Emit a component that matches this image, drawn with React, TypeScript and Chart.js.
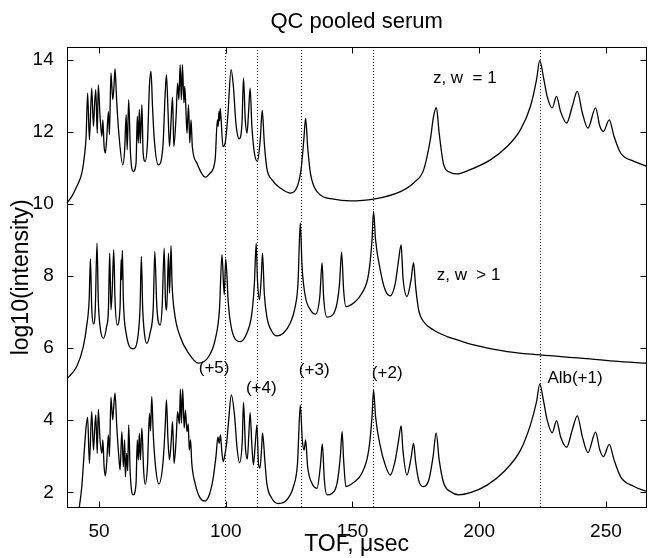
import { useEffect, useRef } from "react";
import { Chart, registerables } from "chart.js";

Chart.register(...registerables);

const FONT = "'Liberation Sans', Arial, Helvetica, sans-serif";

const X_TICKS = [50, 100, 150, 200, 250];
const Y_TICKS = [2, 4, 6, 8, 10, 12, 14];
const X_MIN = 37.24;
const X_MAX = 266.0;
const Y_MIN = 1.573;
const Y_MAX = 14.35;

// z, w = 1 (top trace)
const TOP_X = [
  37.24, 39.2, 41.2, 43.2, 44.2, 44.9, 45.5, 46.2, 47.1, 47.8, 48.2, 48.7, 49.3, 49.7, 50.4, 51.1,
  51.5, 52.0, 52.5, 53.0, 53.7, 54.1, 54.7, 55.4, 55.9, 56.3, 57.0, 57.9, 59.4, 60.1, 60.7, 61.1,
  61.7, 62.4, 63.5, 64.6, 65.1, 65.5, 65.9, 66.3, 66.9, 67.4, 68.2, 69.1, 69.9, 70.5, 71.1, 71.8,
  73.4, 75.2, 76.1, 76.6, 77.2, 77.8, 78.5, 79.0, 79.5, 80.4, 81.0, 81.5, 82.0, 82.5, 82.9, 83.5,
  83.8, 84.2, 84.7, 85.3, 85.8, 86.3, 86.8, 88.6, 90.6, 91.9, 93.8, 95.8, 96.7, 97.0, 97.3, 97.6,
  97.8, 98.9, 99.8, 100.8, 102.1, 103.0, 104.0, 105.3, 106.4, 107.0, 107.7, 108.4, 109.0, 109.6,
  110.3, 111.3, 112.5, 113.6, 114.4, 115.2, 116.2, 118.2, 121.5, 125.5, 128.2, 129.7, 130.8, 131.5,
  132.3, 133.4, 136.0, 142.6, 149.1, 158.3, 168.9, 174.1, 178.1, 180.7, 182.0, 183.1, 184.2, 186.0,
  188.6, 191.3, 196.5, 204.4, 211.0, 216.3, 220.2, 222.6, 223.9, 225.3, 226.8, 228.8, 230.5, 232.1,
  234.5, 236.7, 238.7, 240.7, 242.9, 245.9, 247.6, 249.0, 251.3, 253.2, 255.8, 261.1, 266.3,
];
const TOP_Y = [
  10.02, 10.2, 10.48, 10.85, 11.31, 11.87, 13.07, 11.78, 13.21, 12.15, 12.7, 13.17, 11.96, 13.3, 12.43, 11.87,
  12.33, 11.59, 11.41, 11.78, 12.56, 11.92, 13.63, 12.89, 13.26, 13.75, 12.8, 11.87, 11.08, 11.5, 12.47, 11.5,
  12.89, 11.41, 10.9, 11.13, 12.43, 11.69, 12.61, 11.68, 12.75, 11.41, 11.18, 11.69, 13.3, 13.67, 12.7, 11.78,
  11.08, 11.59, 13.07, 13.58, 12.61, 11.59, 12.43, 12.96, 11.59, 12.43, 13.35, 12.89, 13.86, 12.89, 13.86, 12.8,
  13.26, 12.75, 11.96, 12.75, 11.69, 12.33, 11.59, 11.13, 10.83, 10.74, 10.85, 11.22, 12.33, 12.15, 12.56, 12.3,
  12.65, 11.59, 11.7, 12.43, 13.72, 13.26, 12.24, 11.8, 12.24, 13.49, 12.33, 11.96, 12.55, 13.21,
  12.15, 11.41, 11.18, 11.78, 12.59, 11.69, 10.99, 10.67, 10.44, 10.3, 10.48, 10.95, 11.78, 12.38,
  11.59, 10.85, 10.34, 10.13, 10.08, 10.13, 10.34, 10.58, 10.95, 11.78, 12.43, 12.67, 11.96, 11.08,
  10.87, 10.83, 10.95, 11.22, 11.59, 12.06, 12.7, 13.44, 13.98, 13.53, 12.98, 12.66, 12.98, 12.56,
  12.24, 12.7, 13.12, 12.52, 12.1, 12.66, 12.15, 12.01, 12.33, 11.87, 11.41, 11.18, 11.04,
];

// z, w > 1 (middle trace)
const MID_X = [
  37.24, 41.2, 43.8, 45.1, 46.1, 46.6, 47.1, 47.8, 48.5, 49.2, 49.7, 50.4, 51.7, 53.0, 53.7, 54.2,
  54.7, 55.2, 55.8, 56.3, 57.2, 58.3, 58.7, 58.9, 59.2, 59.6, 60.7, 63.5, 65.5, 66.2, 66.7, 67.2,
  67.9, 68.8, 70.1, 71.4, 72.0, 72.8, 74.1, 74.9, 75.7, 76.2, 76.7, 77.4, 77.8, 78.4, 78.8, 79.8,
  82.0, 85.3, 89.2, 93.2, 95.8, 97.5, 98.5, 99.4, 100.0, 101.0, 102.4, 105.7, 108.3, 110.3, 111.3,
  112.0, 112.5, 113.3, 114.0, 114.5, 115.2, 116.2, 118.2, 120.2, 122.7, 125.4, 127.4, 128.5, 129.4,
  130.1, 131.4, 133.4, 135.4, 137.1, 138.0, 138.6, 139.9, 141.9, 143.9, 144.9, 145.7, 146.5, 147.4,
  150.4, 153.7, 156.4, 157.7, 158.3, 159.1, 161.0, 162.9, 164.9, 166.9, 168.2, 169.2, 169.9, 171.5,
  173.1, 174.1, 174.9, 176.1, 178.1, 182.0, 187.3, 191.3, 197.8, 211.0, 223.9, 240.0, 253.2, 266.3,
];
const MID_Y = [
  5.14, 5.49, 6.04, 6.6, 7.34, 8.47, 7.15, 6.67, 7.06, 8.91, 7.34, 6.6, 6.27, 6.6, 7.06, 8.63,
  7.06, 7.6, 8.72, 7.34, 6.64, 7.15, 8.45, 7.89, 8.71, 7.34, 6.41, 5.98, 6.41, 7.15, 8.54, 7.15,
  6.41, 6.13, 6.41, 7.15, 8.68, 7.15, 6.64, 7.15, 8.77, 7.34, 7.06, 8.63, 7.52, 8.84, 7.8, 6.97,
  6.32, 5.86, 5.58, 5.76, 6.23, 7.06, 8.59, 7.48, 8.47, 7.25, 6.5, 6.18, 6.41, 6.97, 7.8,
  8.91, 7.9, 7.34, 7.95, 8.63, 7.52, 6.87, 6.46, 6.34, 6.41, 6.69, 7.15, 7.8, 9.47,
  8.26, 7.43, 7.06, 6.94, 7.43, 8.36, 7.43, 6.86, 6.9, 7.25, 7.8, 8.66, 7.61, 7.15,
  7.25, 7.52, 8.08, 9.0, 9.79, 9.0, 8.15, 7.61, 7.45, 7.8, 8.45, 8.86, 7.98, 7.43,
  7.89, 8.37, 7.71, 7.06, 6.73, 6.5, 6.32, 6.23, 6.09, 5.9, 5.81, 5.72, 5.64, 5.58,
];

// bottom trace
const BOT_X = [
  42.2, 43.2, 44.2, 44.9, 45.5, 46.2, 47.1, 47.8, 48.2, 48.7, 49.3, 49.7, 50.4, 51.1, 51.5, 52.0,
  52.5, 53.0, 53.7, 54.1, 54.7, 55.4, 55.8, 56.3, 57.0, 57.9, 58.3, 59.0, 59.6, 60.1, 60.4, 60.9,
  61.3, 61.7, 62.3, 63.5, 64.6, 65.1, 65.5, 65.9, 66.3, 66.9, 67.6, 68.2, 69.1, 69.9, 70.3, 70.8,
  71.4, 72.3, 73.6, 75.2, 76.1, 76.6, 77.2, 77.8, 78.5, 79.0, 79.6, 80.4, 81.0, 81.7, 82.1, 82.5,
  83.0, 83.6, 84.1, 84.7, 85.2, 85.6, 86.1, 86.6, 87.9, 89.6, 91.5, 93.2, 94.9, 96.2, 96.9, 97.4,
  97.9, 98.4, 99.0, 99.8, 100.4, 101.1, 102.2, 103.5, 104.4, 105.4, 106.5, 107.0, 107.8, 108.5,
  109.1, 109.6, 110.3, 110.9, 111.6, 112.3, 112.9, 113.5, 114.2, 114.5, 115.5, 116.2, 118.2, 120.8,
  124.1, 126.7, 128.3, 129.4, 130.2, 130.9, 131.5, 132.3, 134.0, 136.0, 137.3, 138.1, 138.9, 139.9,
  141.9, 143.9, 145.2, 145.9, 146.5, 147.4, 150.4, 153.7, 156.4, 157.7, 158.3, 159.1, 161.0, 162.9,
  164.9, 166.9, 168.2, 169.2, 169.9, 171.5, 173.1, 174.1, 174.9, 176.1, 177.8, 180.1, 181.8, 183.0,
  184.2, 186.0, 188.6, 191.9, 196.5, 203.1, 209.7, 216.3, 220.2, 222.6, 223.9, 225.3, 226.8, 228.8,
  230.5, 232.1, 234.5, 236.7, 238.7, 240.7, 242.9, 245.9, 247.6, 249.0, 251.3, 253.2, 255.8, 261.1,
  266.3,
];
const BOT_Y = [
  1.58, 2.16, 3.17, 3.82, 4.08, 2.8, 4.24, 3.17, 3.64, 4.15, 3.08, 4.3, 3.45, 3.08, 3.45, 2.71,
  2.45, 2.8, 3.59, 2.99, 4.64, 4.01, 4.38, 4.75, 3.82, 2.9, 2.62, 3.68, 2.71, 3.45, 2.43, 3.08,
  2.6, 3.87, 2.53, 1.93, 2.25, 3.45, 2.9, 3.64, 2.9, 3.78, 2.6, 2.23, 2.71, 4.19, 3.7, 4.65,
  3.6, 2.71, 2.23, 2.8, 3.82, 4.56, 3.45, 2.9, 3.45, 3.96, 2.8, 3.45, 4.24, 3.9, 4.86, 3.92,
  4.86, 3.78, 4.28, 3.68, 3.9, 3.17, 3.45, 2.8, 2.25, 1.88, 1.76, 1.88, 2.34, 3.04, 3.54, 3.36,
  3.59, 3.17, 2.85, 3.1, 3.4, 3.96, 4.7, 4.1, 3.27, 2.82, 3.4, 4.49, 3.2, 2.92,
  3.6, 4.21, 3.3, 2.76, 3.3, 3.87, 2.8, 2.67, 3.3, 3.65, 2.8, 2.25, 1.83, 1.69,
  1.79, 2.16, 2.8, 4.42, 3.45, 3.17, 3.45, 2.71, 2.25, 2.11, 2.71, 3.34, 2.34, 1.93,
  1.97, 2.25, 2.99, 3.68, 2.9, 2.16, 2.27, 2.53, 3.17, 4.1, 4.84, 4.1, 3.27, 2.76,
  2.48, 2.9, 3.45, 3.84, 3.17, 2.48, 2.95, 3.36, 2.85, 2.34, 2.16, 2.34, 2.99, 3.65,
  2.9, 2.25, 2.02, 1.93, 1.99, 2.2, 2.57, 3.17, 3.87, 4.51, 5.0, 4.56, 4.01, 3.65,
  3.99, 3.54, 3.25, 3.73, 4.12, 3.54, 3.1, 3.67, 3.17, 2.99, 3.33, 2.9, 2.43, 2.16,
  2.02,
];

// charge-state marker lines
const MARKER_X = [99.8, 112.3, 129.6, 158.2, 223.9];

// annotations
const NOTE_TEXT = ["z, w  = 1", "z, w  > 1", "(+5)", "(+4)", "(+3)", "(+2)", "Alb(+1)"];
const NOTE_X = [194.3, 195.8, 95.4, 114.0, 134.9, 163.7, 237.8];
const NOTE_Y = [13.48, 8.01, 5.45, 4.89, 5.37, 5.31, 5.17];

function toPoints(xs: number[], ys: number[]) {
  return xs.map((x, i) => ({ x, y: ys[i] }));
}

const decorPlugin = {
  id: "decor",
  beforeDatasetsDraw(chart: any) {
    const { ctx, chartArea: a, scales } = chart;
    const xs = scales.x;
    ctx.save();
    ctx.strokeStyle = "#222";
    ctx.lineWidth = 1;
    ctx.setLineDash([1, 2]);
    MARKER_X.forEach((v) => {
      const px = Math.round(xs.getPixelForValue(v)) + 0.5;
      ctx.beginPath();
      ctx.moveTo(px, a.top);
      ctx.lineTo(px, a.bottom);
      ctx.stroke();
    });
    ctx.restore();
  },
  afterDraw(chart: any) {
    const { ctx, chartArea: a, scales } = chart;
    const xs = scales.x;
    const ys = scales.y;
    ctx.save();
    ctx.strokeStyle = "#000";
    ctx.lineWidth = 1;
    ctx.setLineDash([]);
    const L = Math.round(a.left) + 0.5;
    const R = Math.round(a.right) - 0.5;
    const T = Math.round(a.top) + 0.5;
    const B = Math.round(a.bottom) - 0.5;
    ctx.strokeRect(L, T, R - L, B - T);
    const tl = 6;
    ctx.beginPath();
    X_TICKS.forEach((v) => {
      const px = Math.round(xs.getPixelForValue(v)) + 0.5;
      ctx.moveTo(px, B);
      ctx.lineTo(px, B - tl);
      ctx.moveTo(px, T);
      ctx.lineTo(px, T + tl);
    });
    Y_TICKS.forEach((v) => {
      const py = Math.round(ys.getPixelForValue(v)) + 0.5;
      ctx.moveTo(L, py);
      ctx.lineTo(L + tl, py);
      ctx.moveTo(R, py);
      ctx.lineTo(R - tl, py);
    });
    ctx.stroke();

    ctx.fillStyle = "#000";
    ctx.font = `17px ${FONT}`;
    ctx.textAlign = "center";
    ctx.textBaseline = "middle";
    NOTE_TEXT.forEach((t, i) => {
      ctx.fillText(t, xs.getPixelForValue(NOTE_X[i]), ys.getPixelForValue(NOTE_Y[i]));
    });
    ctx.restore();
  },
};

export default function App() {
  const ref = useRef<HTMLCanvasElement | null>(null);
  useEffect(() => {
    document.body.style.margin = "0";
    const canvas = ref.current;
    if (!canvas) return;
    const mk = (xs: number[], ys: number[]) => ({
      data: toPoints(xs, ys),
      borderColor: "#000",
      borderWidth: 1.3,
      pointRadius: 0,
      fill: false,
      cubicInterpolationMode: "monotone" as const,
    });
    const chart = new Chart(canvas, {
      type: "line",
      data: {
        datasets: [mk(TOP_X, TOP_Y), mk(MID_X, MID_Y), mk(BOT_X, BOT_Y)],
      },
      options: {
        animation: false,
        responsive: false,
        devicePixelRatio: 1,
        layout: { padding: { top: 0, right: 1.5, bottom: 0, left: 0 } },
        plugins: {
          legend: { display: false },
          tooltip: { enabled: false },
          title: {
            display: true,
            text: "QC pooled serum",
            fullSize: false,
            color: "#000",
            font: { family: FONT, size: 22, weight: "normal", lineHeight: 1.2 },
            padding: { top: 8.8, bottom: 11.8 },
          },
        },
        scales: {
          x: {
            type: "linear",
            min: X_MIN,
            max: X_MAX,
            afterBuildTicks: (s: any) => {
              s.ticks = X_TICKS.map((v) => ({ value: v }));
            },
            afterFit: (s: any) => {
              s.height = 50.3;
            },
            grid: { display: false },
            border: { display: false },
            ticks: {
              color: "#000",
              padding: 5,
              maxRotation: 0,
              font: { family: FONT, size: 19 },
              callback: (v: any) => String(v),
            },
            title: {
              display: true,
              text: "TOF, \u03bcsec",
              color: "#000",
              font: { family: FONT, size: 23, lineHeight: 1.2 },
              padding: { top: 0, bottom: 0 },
            },
          },
          y: {
            type: "linear",
            min: Y_MIN,
            max: Y_MAX,
            afterBuildTicks: (s: any) => {
              s.ticks = Y_TICKS.map((v) => ({ value: v }));
            },
            afterFit: (s: any) => {
              s.width = 66.7;
            },
            grid: { display: false },
            border: { display: false },
            ticks: {
              color: "#000",
              padding: 5,
              font: { family: FONT, size: 19 },
              callback: (v: any) => String(v),
            },
            title: {
              display: true,
              text: "log10(intensity)",
              color: "#000",
              font: { family: FONT, size: 23, lineHeight: 1.2 },
              padding: { top: 8, bottom: 0 },
            },
          },
        },
      },
      plugins: [decorPlugin],
    });
    return () => chart.destroy();
  }, []);
  return (
    <div style={{ width: 648, height: 558 }}>
      <canvas ref={ref} width={648} height={558} style={{ display: "block" }} />
    </div>
  );
}
